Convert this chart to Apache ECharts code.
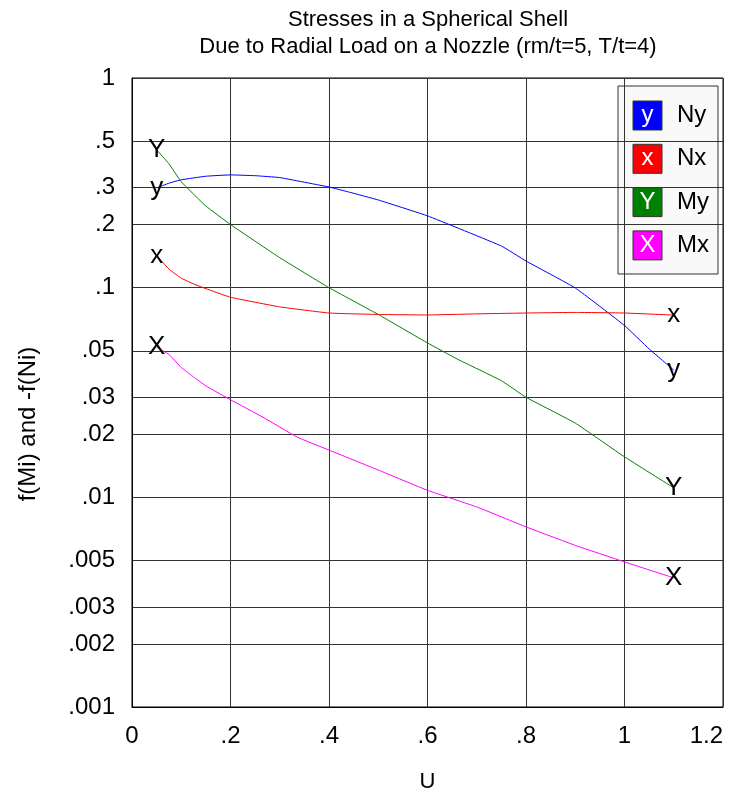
<!DOCTYPE html>
<html>
<head>
<meta charset="utf-8">
<script src="https://cdn.jsdelivr.net/npm/echarts@6/dist/echarts.min.js"></script>
<style>
  html, body { margin: 0; padding: 0; background: #fff; }
  #main { width: 734px; height: 793px; }
</style>
</head>
<body>
<div id="main"></div>
<script>
// values
var uNy = [0.05, 0.075, 0.1, 0.15, 0.2, 0.25, 0.3, 0.4, 0.44, 0.5, 0.6, 0.75, 0.8, 0.9, 1.0, 1.05, 1.1];
var valNy = [0.299, 0.315, 0.327, 0.340, 0.345, 0.342, 0.335, 0.302, 0.286, 0.262, 0.220, 0.158, 0.134, 0.0997, 0.066, 0.051, 0.0405];

var uNx = [0.05, 0.077, 0.1, 0.13, 0.2, 0.3, 0.4, 0.5, 0.6, 0.7, 0.8, 0.9, 1.0, 1.1];
var valNx = [0.142, 0.1215, 0.111, 0.103, 0.090, 0.081, 0.0757, 0.0745, 0.0741, 0.075, 0.0757, 0.0762, 0.0757, 0.074];

var uMy = [0.05, 0.075, 0.1, 0.15, 0.2, 0.3, 0.4, 0.5, 0.6, 0.66, 0.75, 0.8, 0.9, 1.0, 1.1];
var valMy = [0.454, 0.39, 0.32, 0.245, 0.2, 0.139, 0.1, 0.0745, 0.0545, 0.0457, 0.036, 0.030, 0.0226, 0.0156, 0.0111];

var uMx = [0.05, 0.075, 0.1, 0.125, 0.15, 0.2, 0.266, 0.335, 0.4, 0.5, 0.6, 0.7, 0.8, 0.9, 1.0, 1.1];
var valMx = [0.052, 0.048, 0.0416, 0.0375, 0.034, 0.0292, 0.0241, 0.0194, 0.0168, 0.0135, 0.0108, 0.009, 0.00723, 0.0059, 0.00492, 0.00413];

var yTicks = [0.001, 0.002, 0.003, 0.005, 0.01, 0.02, 0.03, 0.05, 0.1, 0.2, 0.3, 0.5, 1];

var curves = [
  { name: 'Ny', mark: 'y', color: '#0000ff', u: uNy, v: valNy },
  { name: 'Nx', mark: 'x', color: '#ff0000', u: uNx, v: valNx },
  { name: 'My', mark: 'Y', color: '#008000', u: uMy, v: valMy },
  { name: 'Mx', mark: 'X', color: '#ff00ff', u: uMx, v: valMx }
];

var FONT = 'Liberation Sans, Arial, sans-serif';

function shortNum(v) {
  return String(+(+v).toPrecision(3)).replace(/^0\./, '.');
}

var series = curves.map(function (c) {
  var data = c.u.map(function (u, i) {
    var item = { value: [u, c.v[i]] };
    if (i === 0 || i === c.u.length - 1) {
      item.label = {
        show: true, position: 'inside', formatter: c.mark,
        color: '#000', fontSize: 26, fontFamily: FONT
      };
    }
    return item;
  });
  return {
    name: c.name,
    type: 'line',
    smooth: 0.1,
    symbol: 'circle',
    symbolSize: 0,
    lineStyle: { color: c.color, width: 1 },
    itemStyle: { color: c.color },
    data: data,
    z: 3
  };
});

// legend box drawn as graphic, letters inside coloured squares
var legendItems = [{
  type: 'rect',
  shape: { x: 618, y: 86, width: 100, height: 188 },
  style: { fill: '#f9f9f9', stroke: '#333', lineWidth: 1 }
}];
curves.forEach(function (c, i) {
  var y0 = 101 + i * 43.3;
  legendItems.push({
    type: 'rect',
    shape: { x: 633, y: y0, width: 29, height: 29 },
    style: { fill: c.color, stroke: '#333', lineWidth: 1 }
  });
  legendItems.push({
    type: 'text', x: 647.5, y: y0 + 14.5,
    style: { text: c.mark, fill: '#fff', font: '24px ' + FONT, textAlign: 'center', textVerticalAlign: 'middle' }
  });
  legendItems.push({
    type: 'text', x: 677, y: y0 + 14.5,
    style: { text: c.name, fill: '#000', font: '24px ' + FONT, textAlign: 'left', textVerticalAlign: 'middle' }
  });
});

var titleText = [{
  type: 'text', x: 428, y: 20,
  style: { text: 'Stresses in a Spherical Shell', fill: '#000', font: '22px ' + FONT, textAlign: 'center', textVerticalAlign: 'middle' }
}, {
  type: 'text', x: 428, y: 47,
  style: { text: 'Due to Radial Load on a Nozzle (rm/t=5, T/t=4)', fill: '#000', font: '22px ' + FONT, textAlign: 'center', textVerticalAlign: 'middle' }
}, {
  type: 'text', x: 28, y: 424, rotation: Math.PI / 2,
  style: { text: 'f(Mi) and -f(Ni)', fill: '#000', font: '24px ' + FONT, textAlign: 'center', textVerticalAlign: 'middle' }
}];

var option = {
  backgroundColor: '#fff',
  animation: false,
  textStyle: { fontFamily: FONT },
  grid: {
    left: 132, top: 78, width: 591, height: 629,
    show: true, borderColor: '#000', borderWidth: 1,
    outerBoundsMode: 'none'
  },
  xAxis: {
    type: 'value', min: 0, max: 1.2, interval: 0.2,
    name: 'U', nameLocation: 'middle', nameGap: 64,
    nameTextStyle: { color: '#000', fontSize: 22 },
    axisLine: { show: true, lineStyle: { color: '#000' } },
    axisTick: { show: false },
    axisLabel: { color: '#000', fontSize: 24, margin: 17, alignMaxLabel: 'right', formatter: shortNum },
    splitLine: { show: true, lineStyle: { color: '#333', width: 1 } }
  },
  yAxis: {
    type: 'log', logBase: 10, min: 0.001, max: 1,
    axisLine: { show: true, lineStyle: { color: '#000' } },
    axisTick: { show: false, customValues: yTicks },
    axisLabel: { color: '#000', fontSize: 24, margin: 17, customValues: yTicks, formatter: shortNum },
    splitLine: { show: true, lineStyle: { color: '#333', width: 1 } },
    minorSplitLine: { show: false }
  },
  graphic: titleText.concat(legendItems),
  series: series
};

var myChart = echarts.init(document.getElementById('main'));
myChart.setOption(option);
</script>
</body>
</html>
